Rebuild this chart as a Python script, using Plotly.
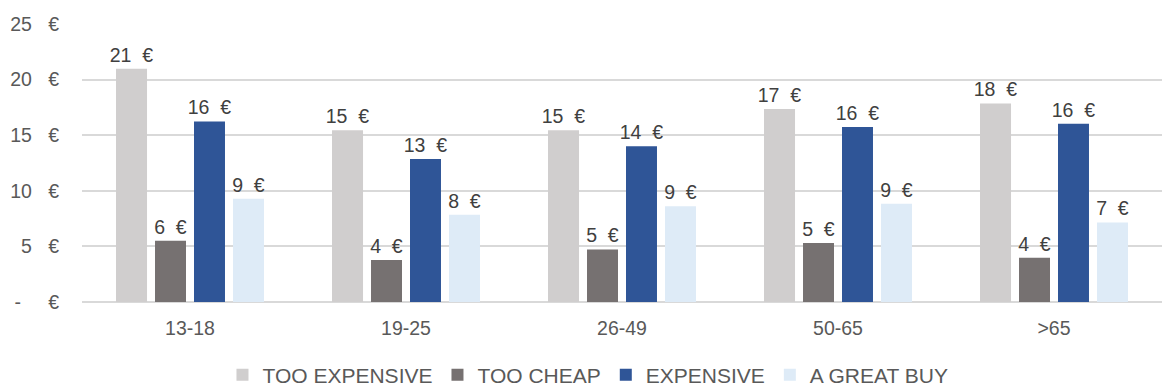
import plotly.graph_objects as go

# Average price thresholds by age group (EUR)
age_groups = ["13-18", "19-25", "26-49", "50-65", ">65"]
too_expensive = [20.98, 15.45, 15.45, 17.36, 17.86]
too_cheap = [5.5, 3.78, 4.73, 5.3, 3.98]
expensive = [16.24, 12.86, 14.0, 15.74, 16.03]
great_buy = [9.29, 7.85, 8.6, 8.84, 7.16]

NB = "\u00a0"
y_ticks = [0, 5, 10, 15, 20, 25]
y_tick_labels = ["-" + NB * 5 + "€", "5" + NB * 3 + "€", "10" + NB * 3 + "€",
                 "15" + NB * 3 + "€", "20" + NB * 3 + "€", "25" + NB * 3 + "€"]

series = [
    ("TOO EXPENSIVE", too_expensive, "#D0CECE"),
    ("TOO CHEAP", too_cheap, "#767171"),
    ("EXPENSIVE", expensive, "#2F5597"),
    ("A GREAT BUY", great_buy, "#DEEBF7"),
]

FONT = "Liberation Sans, Arial, sans-serif"

fig = go.Figure()
for name, vals, color in series:
    fig.add_trace(go.Bar(
        name=name,
        x=age_groups,
        y=vals,
        marker=dict(color=color, line=dict(width=0)),
        texttemplate="%{y:.0f}" + NB * 2 + "€",
        textposition="outside",
        constraintext="none",
        textfont=dict(family=FONT, size=19.5, color="#404040"),
        cliponaxis=False,
    ))

fig.update_layout(
    width=1162,
    height=388,
    barmode="group",
    bargap=0.278,
    bargroupgap=0.205,
    plot_bgcolor="white",
    paper_bgcolor="white",
    margin=dict(l=82, r=0, t=24, b=86, autoexpand=False),
    font=dict(family=FONT, size=19.5, color="#595959"),
    showlegend=True,
    legend=dict(
        orientation="h",
        xref="paper",
        yref="paper",
        x=0.4685,
        xanchor="center",
        y=-0.263,
        yanchor="middle",
        font=dict(family=FONT, size=21, color="#595959"),
        itemwidth=30,
        traceorder="normal",
    ),
)

fig.update_xaxes(
    showgrid=False,
    showline=False,
    ticks="",
    ticklabelstandoff=12,
    tickfont=dict(family=FONT, size=19.5, color="#595959"),
)

fig.update_yaxes(
    range=[0, 25],
    tickvals=y_ticks,
    ticktext=y_tick_labels,
    showgrid=True,
    gridcolor="#D9D9D9",
    gridwidth=1.5,
    zeroline=True,
    zerolinecolor="#D9D9D9",
    zerolinewidth=1.5,
    showline=False,
    ticks="",
    ticklabelstandoff=22,
    tickfont=dict(family=FONT, size=19.5, color="#595959"),
)

fig.write_html("out.html")
